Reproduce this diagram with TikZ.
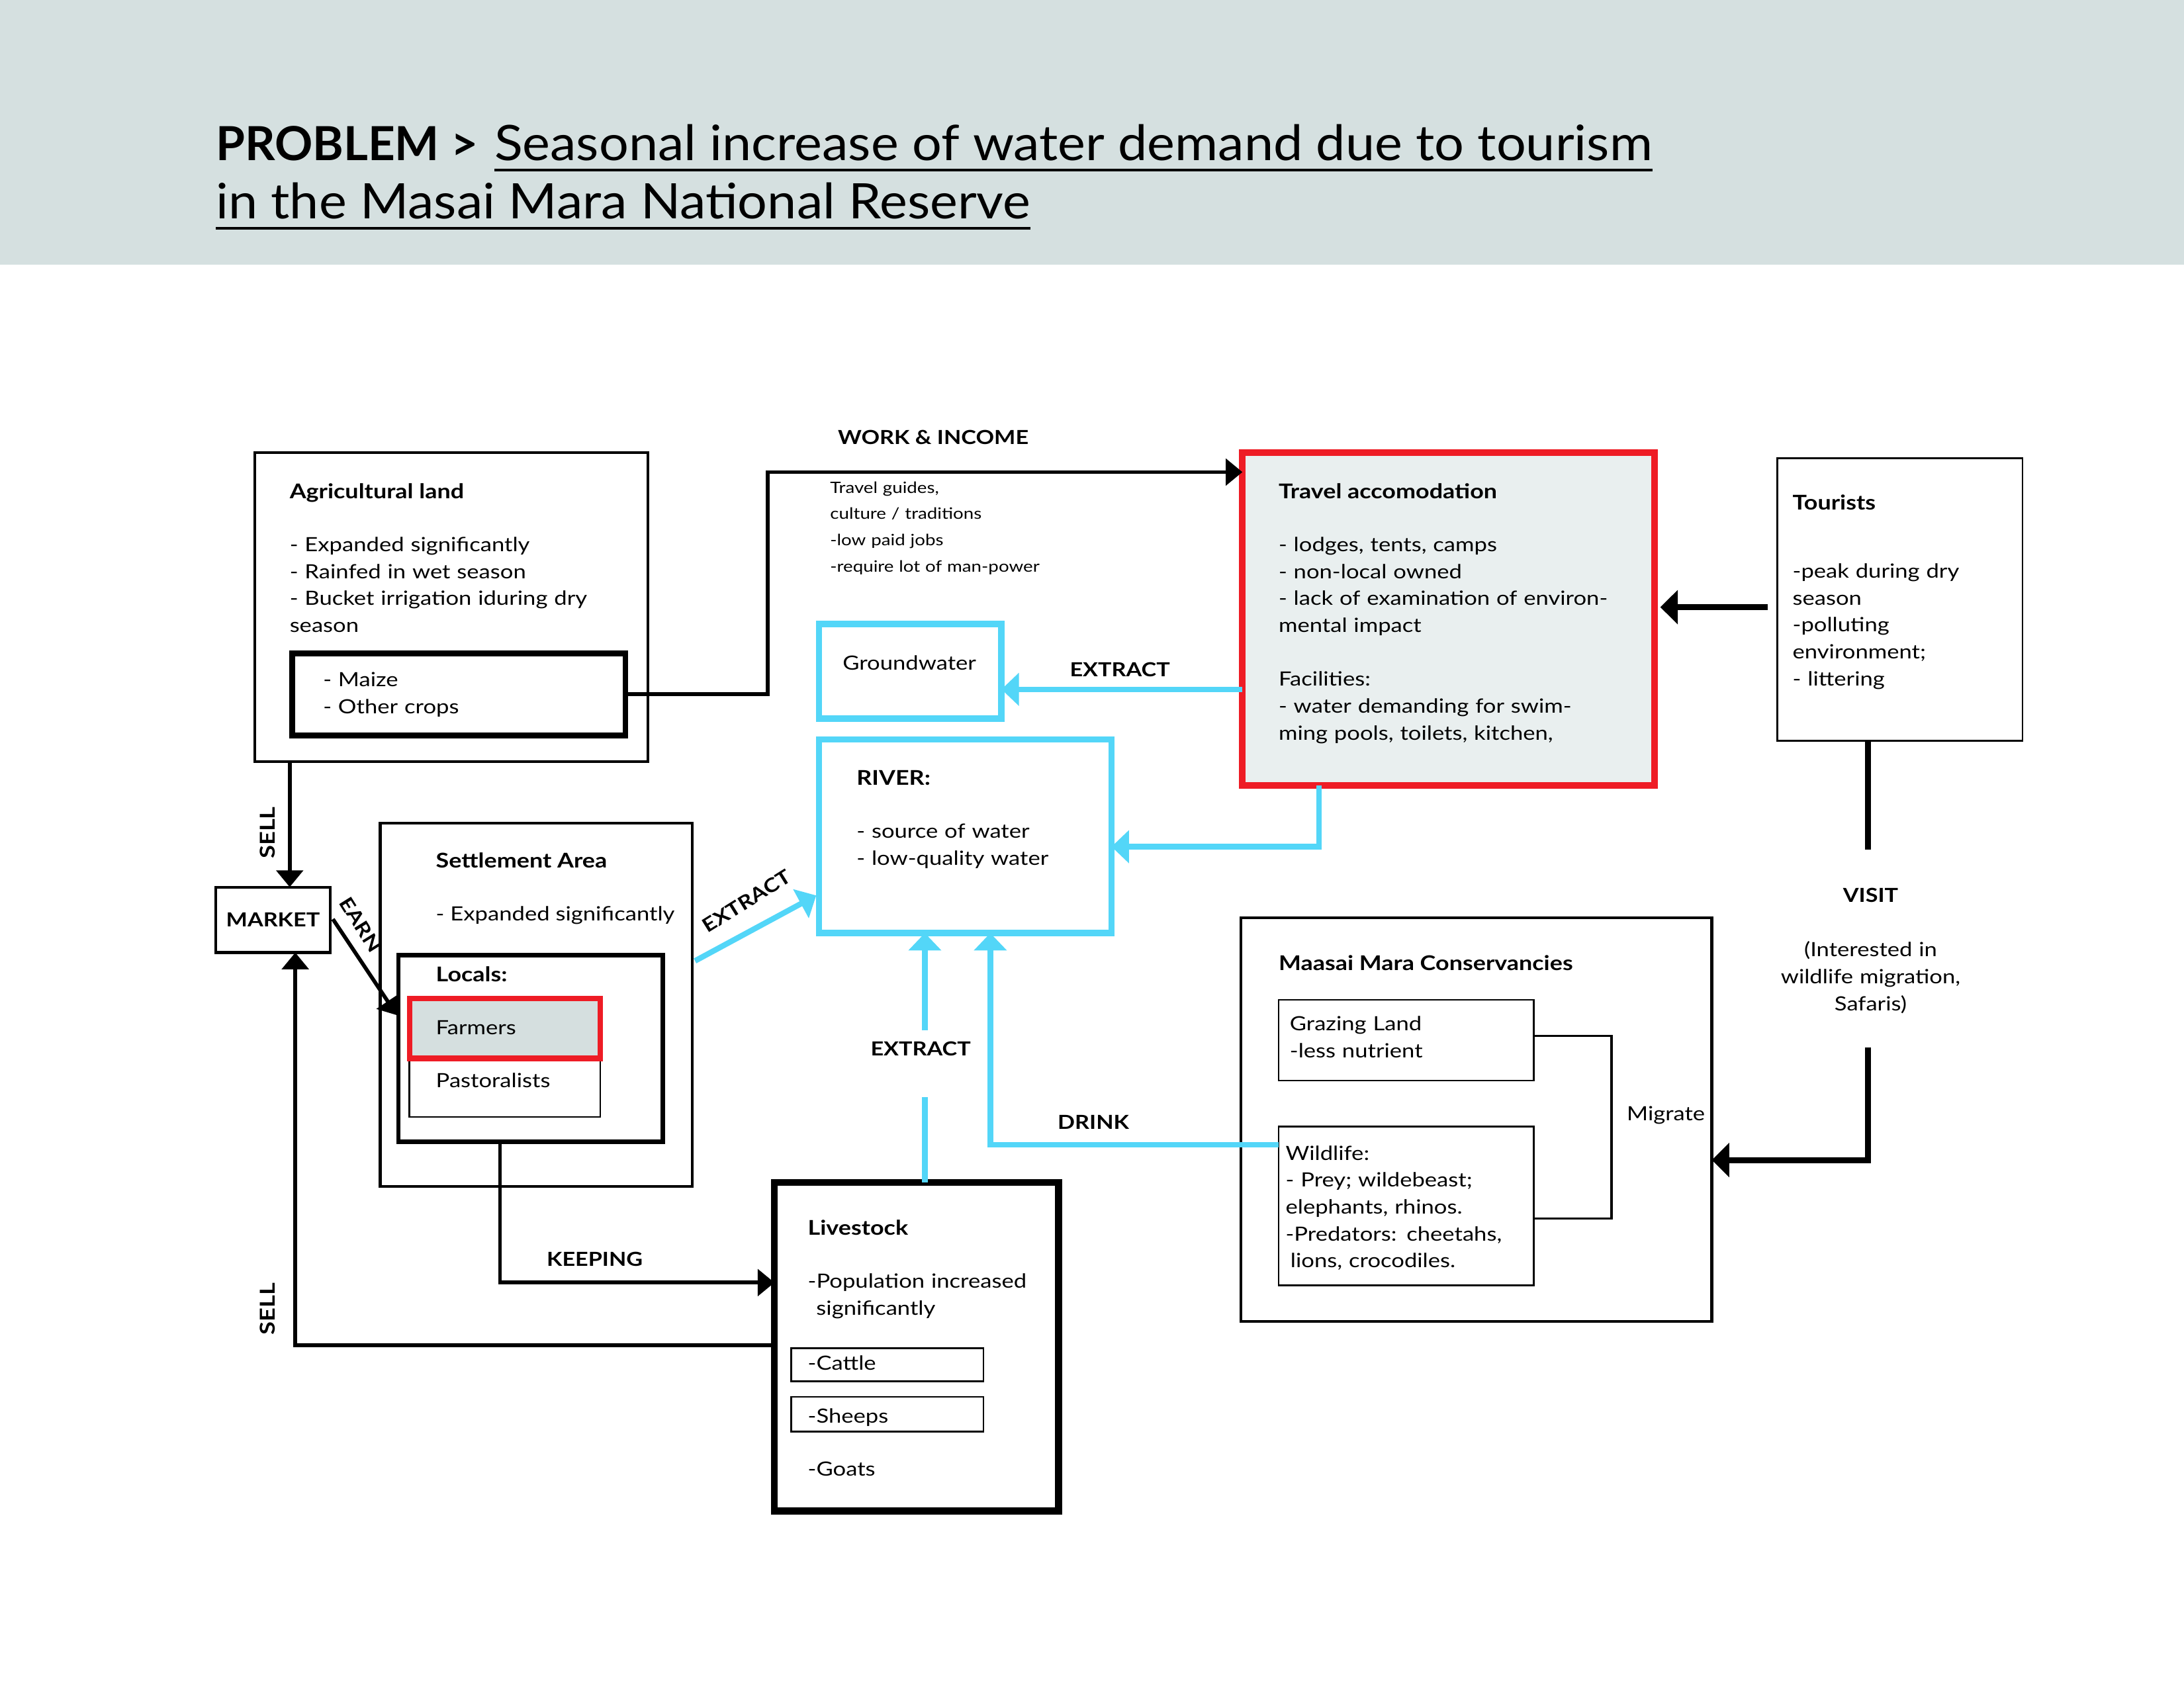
\documentclass[tikz,border=0pt]{standalone}
\usepackage{fontspec}
\setmainfont{Lato}
\newfontfamily\bodyf{Lato}[FakeStretch=1.17]
\newfontfamily\titlef{Lato}[FakeStretch=1.07]
\usetikzlibrary{arrows.meta}
\definecolor{hdr}{HTML}{D5E0E0}
\definecolor{cy}{HTML}{53D6F8}
\definecolor{rd}{HTML}{EE1C25}
\definecolor{travfill}{HTML}{E9EFEF}
\definecolor{farmfill}{HTML}{D5DFDF}
\newcommand\fb{\bodyf\fontsize{8}{11}\selectfont}
\newcommand\fsm{\bodyf\fontsize{6.4}{10.8}\selectfont}
\newcommand\flab{\bodyf\fontsize{7.9}{11}\selectfont\bfseries}
\newcommand\ftit{\fontsize{8.3}{11}\selectfont\bfseries}
\newcommand\ftitle{\titlef\fontsize{20}{24}\selectfont}
\newcommand\fprob{\fontsize{19.2}{24}\selectfont\bfseries}
\newcommand\bx[6]{\node[#6, anchor=north west, minimum width={(#4-#2)*0.02cm}, minimum height={(#5-#3)*0.02cm}] (#1) at (#2,#3) {};}
\tikzset{
  every node/.style={inner sep=0pt, outer sep=0pt},
  tx/.style={font=\fb, anchor=base west},
  tb/.style={font=\fb, anchor=base west, text width=7cm, align=left},
  lab/.style={font=\flab},
  bxthin/.style={draw, line width=0.025cm},
  bxn/.style={draw, line width=0.04cm},
  bxmid/.style={draw, line width=0.065cm},
  bxthick/.style={draw, line width=0.085cm},
  bxlive/.style={draw, line width=0.1cm},
  bxcy/.style={draw=cy, line width=0.09cm},
  bxred/.style={draw=rd, fill=travfill, line width=0.095cm},
  bxfarm/.style={draw=rd, fill=farmfill, line width=0.08cm},
  barr/.style={line width=0.055cm, -{Triangle[length=0.24cm,width=0.38cm]}},
  bthk/.style={line width=0.085cm, -{Triangle[length=0.25cm,width=0.48cm]}},
  bthkline/.style={line width=0.085cm},
  carr/.style={draw=cy, line width=0.08cm, -{Triangle[length=0.25cm,width=0.46cm]}},
  cline/.style={draw=cy, line width=0.08cm},
  uline/.style={line width=1.1pt},
}
\begin{document}
\begin{tikzpicture}[x=0.02cm, y=-0.02cm]
\useasboundingbox (0,0) rectangle (1568,1212);
% header
\fill[hdr] (0,0) rectangle (1568,190);
\node[anchor=base west, font=\fprob] (prob) at (155,115) {PROBLEM >};
\node[anchor=base west, font=\ftitle] (title1) at (355,115) {Seasonal increase of water demand due to tourism};
\node[anchor=base west, font=\ftitle] (title2) at (155,157) {in the Masai Mara National Reserve};
\draw[uline] ([yshift=-4pt]title1.base west) -- ([yshift=-4pt]title1.base east);
\draw[uline] ([yshift=-4pt]title2.base west) -- ([yshift=-4pt]title2.base east);

% Agricultural land
\bx{agri}{183}{325}{465}{547}{bxn}
\node[tx] (agriT) at (208,358) {\ftit Agricultural land};
\node[tb] (agriL) at (208,396) {- Expanded significantly\\- Rainfed in wet season\\- Bucket irrigation iduring dry\\season};
\bx{maize}{210}{469}{449}{528}{bxthick}
\node[tb] (maizeT) at (232,493) {- Maize\\- Other crops};

% Travel accomodation
\bx{travel}{892}{325}{1188}{564}{bxred}
\node[tx] (travelT) at (918,358) {\ftit Travel accomodation};
\node[tb] (travelL) at (918,396) {- lodges, tents, camps\\- non-local owned\\- lack of examination of environ-\\mental impact\\[11pt]Facilities:\\- water demanding for swim-\\ming pools, toilets, kitchen,};

% Tourists
\bx{tour}{1276}{329}{1452}{532}{bxthin}
\node[tx] (tourT) at (1287,366) {\ftit Tourists};
\node[tb] (tourL) at (1287,415) {-peak during dry\\season\\-polluting\\environment;\\- littering};

% Groundwater
\bx{gw}{588}{448}{719}{516}{bxcy}
\node[tx] (gwT) at (605,481) {Groundwater};

% River
\bx{river}{588}{531}{798}{670}{bxcy}
\node[tx] (riverT) at (615,564) {\ftit RIVER:};
\node[tb] (riverL) at (615,602) {- source of water\\- low-quality water};

% work & income
\node[lab] (wiL) at (670,314) {WORK \& INCOME};
\node[tb, font=\fsm] (wiT) at (596,354) {Travel guides,\\culture / traditions\\-low paid jobs\\-require lot of man-power};
\coordinate (wi) at (551,339);
\draw[barr] (maize.east) -| (wi) -- (wi -| travel.west);

% Tourists -> Travel
\coordinate (tt) at (1269,436);
\draw[bthk, shorten >=0.08cm] (tt) -- (tt -| travel.east);

% Travel -> Groundwater
\coordinate (eg) at (891,495);
\draw[carr] (eg -| travel.west) -- (eg -| gw.east);
\node[lab] (egL) at (804,481) {EXTRACT};

% Travel -> River
\coordinate (er) at (947,608);
\draw[carr] (er |- travel.south) -- (er) -- (er -| river.east);

% Settlement area
\bx{settle}{273}{591}{497}{852}{bxn}
\node[tx] (settleT) at (313,623) {\ftit Settlement Area};
\node[tx] (settleL) at (313,661) {- Expanded significantly};
\bx{locals}{286}{686}{476}{820}{bxmid}
\node[tx] (localsT) at (313,705) {\ftit Locals:};
\bx{past}{294}{760}{431}{802}{bxthin}
\bx{farm}{294}{717}{431}{760}{bxfarm}
\node[tx] (farmT) at (313,743) {Farmers};
\node[tx] (pastT) at (313,781) {Pastoralists};

% Market
\bx{market}{155}{637}{237}{684}{bxn}
\node[lab] (marketT) at (market.center) {MARKET};

% SELL from agri
\coordinate (s1) at (208,0);
\draw[barr] (agri.south -| s1) -- (market.north -| s1);
\node[lab, rotate=90, font=\flab\fontsize{8.4}{11}\selectfont] (sell1) at (192,598) {SELL};

% EARN
\coordinate (ea1) at (239,660);
\coordinate (ea2) at (285,729);
\draw[barr] (ea1) -- (ea2);
\node[lab, rotate=-58] (earn) at (259,664) {EARN};

% EXTRACT diagonal
\coordinate (dx1) at (499,690);
\coordinate (dx2) at (586,643);
\draw[carr] (dx1) -- (dx2);
\node[lab, rotate=32] (dxL) at (536,647) {EXTRACT};

% Livestock
\bx{live}{556}{849}{760}{1085}{bxlive}
\node[tx] (liveT) at (580,887) {\ftit Livestock};
\node[tb] (liveL) at (580,925) {-Population increased\\\hspace*{0.1em} significantly};
\bx{cattle}{568}{968}{706}{992}{bxthin}
\node[tx] (cattleT) at (580,984) {-Cattle};
\bx{sheep}{568}{1003}{706}{1028}{bxthin}
\node[tx] (sheepT) at (580,1022) {-Sheeps};
\node[tx] (goatT) at (580,1060) {-Goats};

% KEEPING
\coordinate (kp) at (359,921);
\draw[barr] (locals.south -| kp) -- (kp) -- (kp -| live.west);
\node[lab] (kpL) at (427,904) {KEEPING};

% SELL livestock -> market
\coordinate (s2) at (212,966);
\draw[barr] (s2 -| live.west) -- (s2) -- (market.south -| s2);
\node[lab, rotate=90, font=\flab\fontsize{8.4}{11}\selectfont] (sell2) at (192,940) {SELL};

% EXTRACT livestock -> river
\coordinate (xa) at (664,788);
\coordinate (xb) at (664,740);
\draw[cline] (live.north -| xa) -- (xa);
\draw[carr] (xb) -- (river.south -| xb);
\node[lab] (xL) at (661,753) {EXTRACT};

% Conservancies
\bx{cons}{891}{659}{1229}{949}{bxn}
\node[tx] (consT) at (918,697) {\ftit Maasai Mara Conservancies};
\bx{graze}{918}{718}{1101}{776}{bxthin}
\node[tb] (grazeT) at (926,740) {Grazing Land\\-less nutrient};
\bx{wild}{918}{809}{1101}{923}{bxthin}
\node[tb] (wildT) at (923,833) {Wildlife:\\- Prey; wildebeast;\\elephants, rhinos.\\-Predators: cheetahs,\\\hspace*{0.25em}lions, crocodiles.};

% DRINK
\coordinate (dr) at (711,822);
\draw[carr] (dr -| wild.west) -- (dr) -- (river.south -| dr);
\node[lab] (drL) at (785,806) {DRINK};

% Migrate bracket
\coordinate (mg1) at (1157,744);
\coordinate (mg2) at (1157,875);
\draw[line width=0.03cm] (mg1 -| graze.east) -- (mg1) -- (mg2) -- (mg2 -| wild.east);
\node[font=\fb] (mgL) at (1196,801) {Migrate};

% VISIT
\coordinate (v1) at (1341,610);
\coordinate (v2) at (1341,752);
\coordinate (v3) at (1341,833);
\draw[bthkline] (tour.south -| v1) -- (v1);
\draw[bthk] (v2) -- (v3) -- (v3 -| cons.east);
\node[lab] (vL) at (1343,643) {VISIT};
\node[font=\fb, text width=4cm, align=center, anchor=base] (vT) at (1343,687) {(Interested in\\wildlife migration,\\Safaris)};
\end{tikzpicture}
\end{document}
